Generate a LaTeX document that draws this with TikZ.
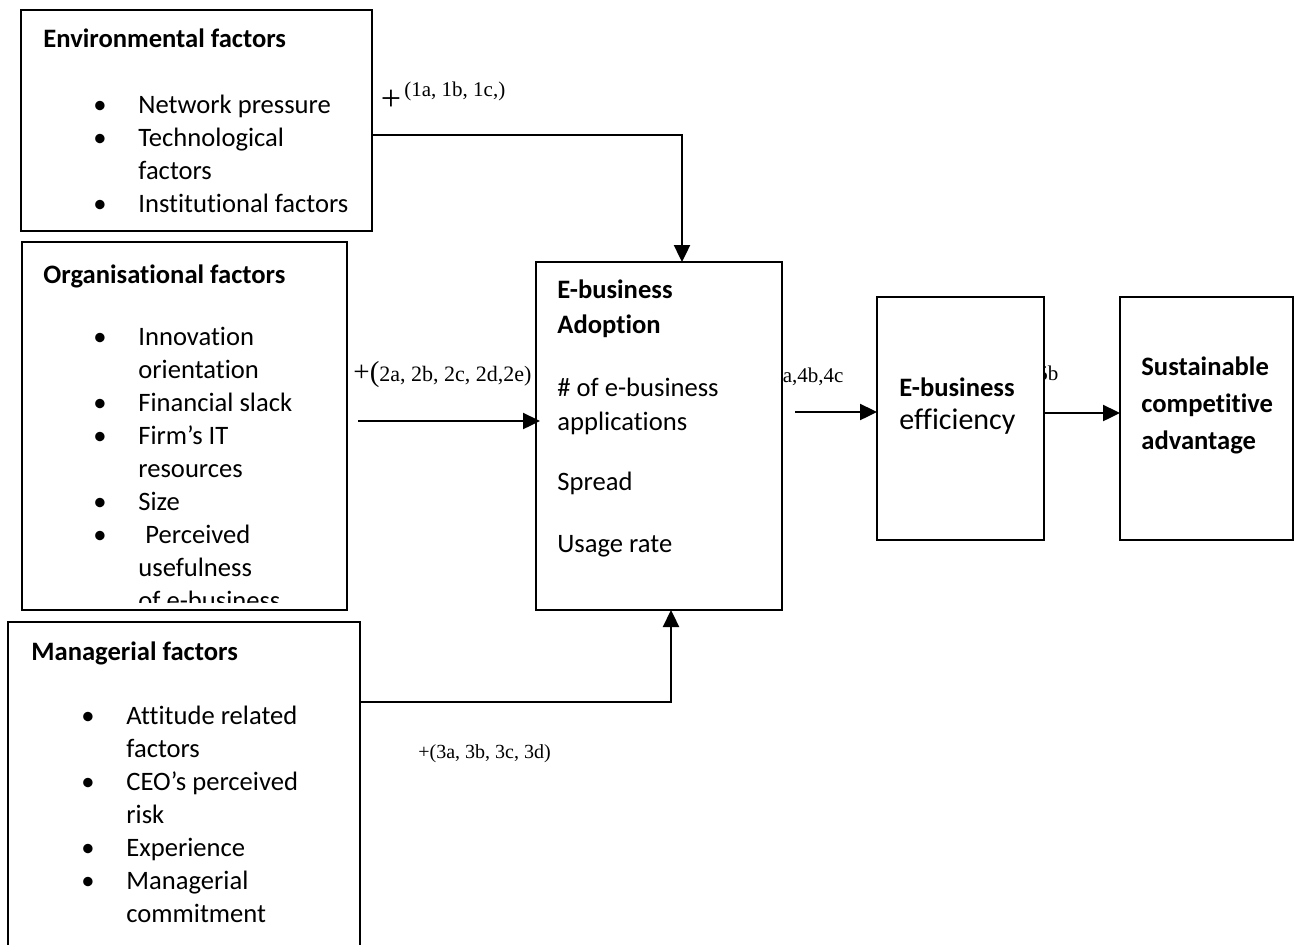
\documentclass[tikz,border=0pt]{standalone}
\usepackage{fontspec}
\setmainfont{Carlito}[Ligatures=NoCommon]
\newfontfamily\tnr{Liberation Serif}
\usetikzlibrary{arrows.meta}

\newcommand{\itm}[1]{\hspace*{25pt}\makebox[22.5pt][l]{\textbullet}#1}
\newcommand{\cnt}[1]{\hspace*{47.5pt}#1}

\tikzset{
  box/.style={draw, fill=white, line width=1.2pt, inner sep=0pt, outer sep=0pt, anchor=north west},
  txt/.style={anchor=base west, inner sep=0pt, font=\fontsize{13.3}{16.5}\selectfont},
  hyp/.style={anchor=base west, inner sep=0pt, font=\tnr\fontsize{10.5}{12}\selectfont},
  arr/.style={-{Triangle[length=8.5pt,width=8pt]}, line width=1.2pt},
}

\begin{document}
\begin{tikzpicture}[x=0.5pt,y=-0.5pt]
  \clip (0,0) rectangle (1296,944);

  % hypothesis labels that sit behind the boxes
  \node[hyp] (h4) at (772,382) {4a,4b,4c};
  \node[hyp] (h5) at (1037,380) {5b};

  % boxes
  \node[box, minimum width=175.5pt, minimum height=110.5pt] (env) at (21,10) {};
  \node[box, minimum width=162.5pt, minimum height=184pt] (org) at (22,242) {};
  \node[box, minimum width=176pt, minimum height=170pt] (mgr) at (8,622) {};
  \node[box, minimum width=123pt, minimum height=174pt] (adopt) at (536,262) {};
  \node[box, minimum width=83.5pt, minimum height=121.5pt] (eff) at (877,297) {};
  \node[box, minimum width=86.5pt, minimum height=121.5pt] (sca) at (1120,297) {};

  % box texts
  \node[txt] (envtxt) at (43,47) {\begin{tabular}[t]{@{}l@{}}
    \textbf{Environmental factors}\\[16.5pt]
    \itm{Network pressure}\\
    \itm{Technological}\\
    \cnt{factors}\\
    \itm{Institutional factors}
  \end{tabular}};
  \begin{scope}
    \clip (22,242) rectangle (347,602);
    \node[txt] (orgtxt) at (43,283) {\begin{tabular}[t]{@{}l@{}}
      \textbf{Organisational factors}\\[14.5pt]
      \itm{Innovation}\\
      \cnt{orientation}\\
      \itm{Financial slack}\\
      \itm{Firm’s IT}\\
      \cnt{resources}\\
      \itm{Size}\\
      \itm{\hspace{3.5pt}Perceived}\\
      \cnt{usefulness}\\
      \cnt{of e-business}
    \end{tabular}};
  \end{scope}
  \node[txt] (mgrtxt) at (31,660) {\begin{tabular}[t]{@{}l@{}}
    \textbf{Managerial factors}\\[15.5pt]
    \itm{Attitude related}\\
    \cnt{factors}\\
    \itm{CEO’s perceived}\\
    \cnt{risk}\\
    \itm{Experience}\\
    \itm{Managerial}\\
    \cnt{commitment}
  \end{tabular}};
  \node[txt] (adopttxt) at (557,298) {\begin{tabular}[t]{@{}l@{}}
    \textbf{E-business}\\[1pt]
    \textbf{Adoption}\\[15pt]
    \# of e-business\\[0.5pt]
    applications\\[13.5pt]
    Spread\\[14.5pt]
    Usage rate
  \end{tabular}};
  \node[txt] (efftxt) at (899,396) {\begin{tabular}[t]{@{}l@{}}
    \textbf{E-business}\\
    {\fontsize{15}{16.5}\selectfont efficiency}
  \end{tabular}};
  \node[txt] (scatxt) at (1141,375) {\begin{tabular}[t]{@{}l@{}}
    \textbf{Sustainable}\\[2pt]
    \textbf{competitive}\\[2pt]
    \textbf{advantage}
  \end{tabular}};

  % hypothesis labels
  \node[inner sep=0pt, font=\tnr\fontsize{18}{18}\selectfont] (p1) at (391,100) {+};
  \node[hyp] (h1) at (404,96) {(1a, 1b, 1c,)};
  \node[hyp, font=\tnr\fontsize{11}{12}\selectfont] (h2) at (353,381) {{\fontsize{14.5}{14.5}\selectfont+(}2a, 2b, 2c, 2d,2e)};
  \node[hyp, font=\tnr\fontsize{10}{12}\selectfont] (h3) at (418,758) {+(3a, 3b, 3c, 3d)};

  % connectors
  \coordinate (c1) at (682,135);
  \coordinate (c2) at (358,421);
  \coordinate (c3) at (671,702);
  \coordinate (c4) at (795,412);
  \coordinate (c5) at (1044,413);
  \draw[arr] (env.east |- c1) -| (adopt.north -| c1);
  \draw[arr] (c2) -- ([xshift=2pt]adopt.west |- c2);
  \draw[arr] (mgr.east |- c3) -| (adopt.south -| c3);
  \draw[arr] (c4) -- (eff.west |- c4);
  \draw[arr] (c5) -- (sca.west |- c5);
\end{tikzpicture}
\end{document}
